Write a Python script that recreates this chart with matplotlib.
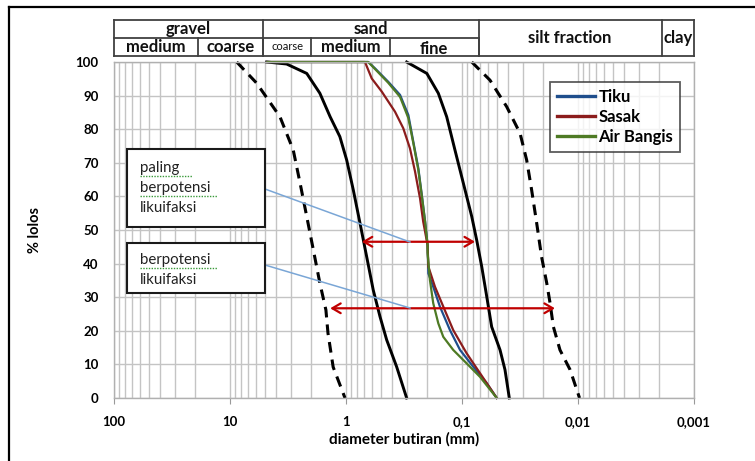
import matplotlib
matplotlib.use("Agg")
import matplotlib.pyplot as plt
from matplotlib.lines import Line2D
from matplotlib.patches import Rectangle
import matplotlib.transforms as mtrans
import math

# ---------------- data ----------------
x_ticks = [100, 10, 1, 0.1, 0.01, 0.001]
x_tick_labels = ["100", "10", "1", "0,1", "0,01", "0,001"]
y_ticks = [0, 10, 20, 30, 40, 50, 60, 70, 80, 90, 100]

tiku_d = [4.75, 0.643, 0.562, 0.432, 0.342, 0.290, 0.263, 0.238, 0.222, 0.208,
          0.198, 0.195, 0.177, 0.155, 0.127, 0.104, 0.080, 0.0612, 0.0502]
tiku_p = [100, 100, 98.1, 94.1, 90.2, 84.2, 76.3, 68.4, 60.4, 52.5,
          45.5, 37.1, 33.1, 27.2, 20.2, 14.3, 9.3, 4.4, 0]

sasak_d = [4.75, 0.686, 0.600, 0.492, 0.378, 0.321, 0.281, 0.254, 0.230, 0.216,
           0.198, 0.195, 0.171, 0.145, 0.119, 0.0912, 0.070, 0.0502]
sasak_p = [100, 100, 95.1, 91.2, 85.2, 80.3, 74.3, 67.4, 59.4, 52.5,
           45.5, 39.1, 33.1, 27.2, 20.2, 13.3, 7.4, 0]

airb_d = [4.75, 0.643, 0.562, 0.432, 0.342, 0.290, 0.263, 0.238, 0.222, 0.208,
          0.198, 0.198, 0.189, 0.177, 0.160, 0.145, 0.119, 0.0912, 0.070, 0.0502]
airb_p = [100, 100, 97.9, 93.8, 89.6, 83.3, 75.9, 67.9, 60.1, 52.4,
          45.5, 43.2, 35.1, 28.2, 22.2, 18.2, 14.3, 10.3, 6.3, 0]

# liquefaction boundary curves
left_dash_d = [8.75, 5.89, 3.71, 2.85, 2.49, 2.18, 1.91, 1.68, 1.49, 1.43, 1.29, 1.02]
left_dash_p = [100, 93.7, 83.7, 73.8, 64, 54, 44, 34.2, 26.2, 19.3, 9.2, 0]

left_solid_d = [4.83, 3.25, 2.18, 1.68, 1.37, 1.13, 0.986, 0.865, 0.757, 0.663,
                0.582, 0.509, 0.446, 0.366, 0.300]
left_solid_p = [100, 99.4, 96.6, 90.7, 83.7, 77.8, 70.8, 61.9, 52, 42,
                32.1, 24.2, 17.3, 9.3, 0]

right_solid_d = [0.300, 0.201, 0.160, 0.1355, 0.115, 0.0975, 0.0824, 0.0747,
                 0.0676, 0.0612, 0.0555, 0.047, 0.0426, 0.0391]
right_solid_p = [100, 96.6, 90.7, 83.7, 73.8, 64, 54, 47, 39.1, 30.2, 21.2, 14.3, 8.4, 0]

right_dash_d = [0.0824, 0.0574, 0.0412, 0.0316, 0.0277, 0.0251, 0.0227, 0.0206,
                0.0186, 0.0174, 0.0163, 0.0143, 0.0117, 0.0097]
right_dash_p = [100, 94.6, 86.7, 78.8, 70.8, 61.9, 52, 42, 34.2, 28.2, 21.2, 14.3, 8.4, 0]

# range arrows: (d_left, d_right, percent)
arrow_most = (0.732, 0.0772, 46.5)
arrow_pot = (1.37, 0.0158, 26.7)

# header table (size boundaries, mm)
top_bounds = [100, 5.2, 0.072, 0.0019, 0.001]
top_labels = ["gravel", "sand", "silt fraction", "clay"]
sub_bounds = [100, 19, 5.2, 2, 0.42, 0.072]
sub_labels = ["medium", "coarse", "coarse", "medium", "fine"]

# ---------------- figure ----------------
W, H = 755, 461
plt.rcParams['font.family'] = ['Lato', 'DejaVu Sans']
fig = plt.figure(figsize=(W / 100, H / 100), dpi=100)


def fx(x):
    return x / W


def fy(y):
    return 1 - y / H


ax = fig.add_axes([fx(114), fy(398), (694 - 114) / W, (398 - 62) / H])
ax.set_xscale('log')
ax.set_xlim(100, 0.001)
ax.set_ylim(0, 100)

grid_c = '#c4c4c4'
ax.set_xticks(x_ticks)
ax.set_xticklabels(x_tick_labels, fontsize=9.5, fontweight='bold')
ax.set_yticks(y_ticks)
ax.set_yticklabels([str(v) for v in y_ticks], fontsize=9.5, fontweight='bold')
ax.tick_params(axis='y', length=0, pad=11)
ax.tick_params(axis='x', which='major', length=4, color='#999999', pad=9)
ax.tick_params(axis='x', which='minor', length=0)
ax.grid(True, which='both', axis='x', color=grid_c, lw=1)
ax.grid(True, which='major', axis='y', color=grid_c, lw=1)
ax.set_axisbelow(True)
for s in ax.spines.values():
    s.set_color('#b0b0b0')
    s.set_linewidth(1)

ax.set_xlabel("diameter butiran (mm)", fontsize=11, fontweight='bold', labelpad=3)
fig.text(fx(35), fy(230), "% lolos", rotation=90, fontsize=10.5, fontweight='bold',
         ha='center', va='center')

# boundary curves
dash = (0, (3.5, 2.3))
ax.plot(left_dash_d, left_dash_p, color='black', lw=2.2, ls=dash, clip_on=False)
ax.plot(right_dash_d, right_dash_p, color='black', lw=2.2, ls=dash, clip_on=False)
ax.plot(left_solid_d, left_solid_p, color='black', lw=2.1, clip_on=False)
ax.plot(right_solid_d, right_solid_p, color='black', lw=2.1, clip_on=False)

# samples
l1, = ax.plot(tiku_d, tiku_p, color='#1F4E8C', lw=1.6, label='Tiku', clip_on=False)
l2, = ax.plot(sasak_d, sasak_p, color='#8B1C1C', lw=1.6, label='Sasak', clip_on=False)
l3, = ax.plot(airb_d, airb_p, color='#4E7A24', lw=1.6, label='Air Bangis', clip_on=False)

# arrows
for a in (arrow_most, arrow_pot):
    ax.annotate('', xy=(a[0], a[2]), xytext=(a[1], a[2]),
                arrowprops=dict(arrowstyle='<->,head_length=0.6,head_width=0.35',
                                color='#C00000', lw=1.6, shrinkA=0, shrinkB=0))

leg = ax.legend(handles=[l1, l2, l3], loc='upper left',
                bbox_to_anchor=((550 - 114) / 580, (398 - 82) / 336),
                prop={'weight': 'bold', 'size': 12}, frameon=True, fancybox=False,
                handlelength=2.3, handletextpad=0.2, labelspacing=0.25,
                borderpad=0.4, borderaxespad=0)
leg.get_frame().set_edgecolor('#333333')
leg.get_frame().set_linewidth(1.3)
for h in leg.get_lines():
    h.set_linewidth(2.4)

# annotation boxes (figure pixel geometry)
def box(x0, y0, x1, y1):
    r = Rectangle((fx(x0), fy(y1)), fx(x1) - fx(x0), fy(y0) - fy(y1),
                  transform=fig.transFigure, facecolor='white',
                  edgecolor='#1a1a1a', lw=1.5, zorder=5)
    fig.add_artist(r)


box(127, 149, 265, 227)
box(127, 243, 265, 293)

txt_kw = dict(fontsize=10.8, color='#222222', ha='left', va='center',
              transform=fig.transFigure, zorder=6)
fig.text(fx(140), fy(168), "paling", **txt_kw)
fig.text(fx(140), fy(188), "berpotensi", **txt_kw)
fig.text(fx(140), fy(208), "likuifaksi", **txt_kw)
fig.text(fx(140), fy(260), "berpotensi", **txt_kw)
fig.text(fx(140), fy(280), "likuifaksi", **txt_kw)

# spell-check underlines
for (xa, xb, yy) in [(140, 192, 176), (140, 217, 196), (140, 217, 268)]:
    fig.add_artist(Line2D([fx(xa), fx(xb)], [fy(yy), fy(yy)], color='#3a9a3a',
                          lw=1, ls=(0, (1, 1)), transform=fig.transFigure, zorder=7))

# leader lines
for (xa, ya, xb, yb) in [(265, 189, 410, 242), (265, 265, 410, 308)]:
    fig.add_artist(Line2D([fx(xa), fx(xb)], [fy(ya), fy(yb)], color='#7aa6d6',
                          lw=1.1, transform=fig.transFigure, zorder=4))

# header table
tb = mtrans.blended_transform_factory(ax.transData, fig.transFigure)
t_top, t_mid, t_bot = fy(20), fy(38), fy(56)
tc = '#404040'
tlw = 1.3


def tline(xs, ys):
    fig.add_artist(Line2D(xs, ys, color=tc, lw=tlw, transform=tb, clip_on=False))


tline([100, 0.001], [t_top, t_top])
tline([100, 0.001], [t_bot, t_bot])
tline([100, 0.072], [t_mid, t_mid])
for b in top_bounds:
    tline([b, b], [t_top, t_bot])
for b in sub_bounds[1:]:
    tline([b, b], [t_mid, t_bot])


def gmid(a, b):
    return 10 ** ((math.log10(a) + math.log10(b)) / 2)


hk = dict(ha='center', va='center', fontweight='bold', transform=tb, color='#111111')
fig.text(gmid(top_bounds[0], top_bounds[1]), fy(29), top_labels[0], fontsize=12, **hk)
fig.text(gmid(top_bounds[1], top_bounds[2]), fy(29), top_labels[1], fontsize=12, **hk)
fig.text(gmid(top_bounds[2], top_bounds[3]), fy(38), top_labels[2], fontsize=12, **hk)
fig.text(gmid(top_bounds[3], top_bounds[4]), fy(38), top_labels[3], fontsize=12, **hk)
for i, lab in enumerate(sub_labels):
    fs = 8 if i == 2 else 12
    wt = 'normal' if i == 2 else 'bold'
    yy = 49 if i == 4 else 46.5
    fig.text(gmid(sub_bounds[i], sub_bounds[i + 1]), fy(yy), lab, fontsize=fs,
             ha='center', va='center', fontweight=wt, transform=tb, color='#111111')

# outer frame
fig.add_artist(Line2D([fx(9), fx(9)], [fy(7), 0], color='black', lw=1.6,
                      transform=fig.transFigure))
fig.add_artist(Line2D([fx(9), 1], [fy(7), fy(7)], color='black', lw=1.6,
                      transform=fig.transFigure))

fig.savefig('out.png', dpi=100)
